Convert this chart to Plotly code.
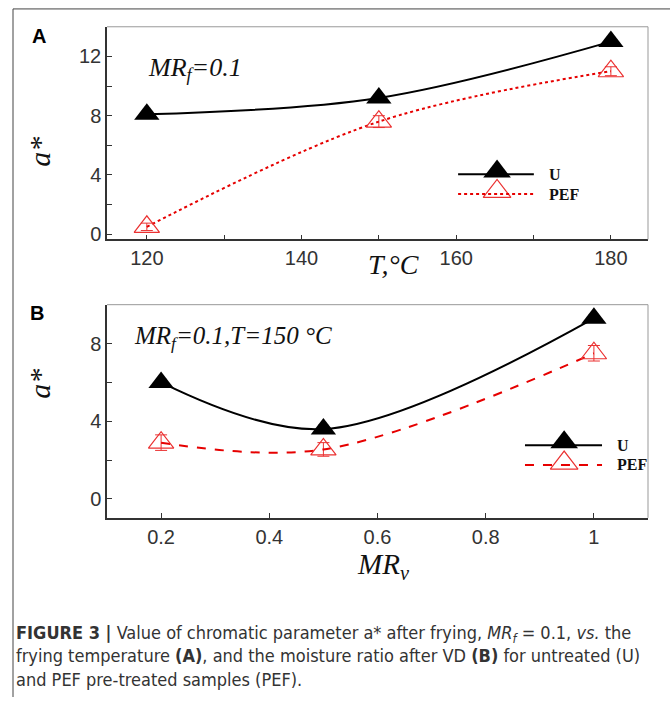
import plotly.graph_objects as go

W, H = 670, 703

def px(x):
    return x / W

def py(y):
    return 1 - y / H

# ---------------- data ----------------
temp = [120, 150, 180]
a_u_temp = [8.1, 9.2, 13.0]
a_u_temp_err = [0.2, 0.2, 0.2]
a_pef_temp = [0.5, 7.6, 11.0]
a_pef_temp_err = [0.25, 0.4, 0.3]

mrv = [0.2, 0.5, 1.0]
a_u_mrv = [6.0, 3.6, 9.3]
a_u_mrv_err = [0.2, 0.2, 0.2]
a_pef_mrv = [2.9, 2.55, 7.5]
a_pef_mrv_err = [0.4, 0.35, 0.4]

series_names = ["U", "PEF"]

BLACK = "#000000"
RED = "rgb(230,0,0)"
RED_M = "rgb(235,50,50)"
TICKC = "#333333"
SANS = "Liberation Sans, Arial, sans-serif"
SERIF = "Liberation Serif, Times New Roman, serif"

fig = go.Figure()

def add_pair(xs, yu, yue, yp, ype, xa, ya, pef_dash):
    fig.add_trace(go.Scatter(
        x=xs, y=yp, mode="lines+markers", xaxis=xa, yaxis=ya,
        line=dict(color=RED, width=2, dash=pef_dash, shape="spline", smoothing=1.0),
        marker=dict(symbol="triangle-up-open", size=22, color=RED_M, line=dict(color=RED_M, width=1.2)),
        error_y=dict(type="data", array=ype, color=RED_M, thickness=1, width=6),
        showlegend=False, name=series_names[1]))
    fig.add_trace(go.Scatter(
        x=xs, y=yu, mode="lines+markers", xaxis=xa, yaxis=ya,
        line=dict(color=BLACK, width=2, shape="spline", smoothing=1.0),
        marker=dict(symbol="triangle-up", size=22, color=BLACK),
        error_y=dict(type="data", array=yue, color=BLACK, thickness=1, width=5),
        showlegend=False, name=series_names[0]))

add_pair(temp, a_u_temp, a_u_temp_err, a_pef_temp, a_pef_temp_err, "x", "y", "dot")
add_pair(mrv, a_u_mrv, a_u_mrv_err, a_pef_mrv, a_pef_mrv_err, "x2", "y2", "dash")

# custom legends on overlay axes (0..1 in the plot area)
legend_specs = [
    ("x3", "y3", "x", "y", 0.649, 0.789, 0.721, 0.307, 0.2135, 0.319, 0.226, "dot"),
    ("x4", "y4", "x2", "y2", 0.7726, 0.915, 0.845, 0.341, 0.248, 0.355, 0.257, "dash"),
]
shapes = []
annotations = []
for (xa, ya, bx, by, lx0, lx1, mx, uy, pyy, umy, pmy, dash) in legend_specs:
    fig.add_trace(go.Scatter(x=[mx], y=[umy], mode="markers", xaxis=xa, yaxis=ya,
                             marker=dict(symbol="triangle-up", size=24, color=BLACK),
                             showlegend=False, hoverinfo="skip"))
    fig.add_trace(go.Scatter(x=[mx], y=[pmy], mode="markers", xaxis=xa, yaxis=ya,
                             marker=dict(symbol="triangle-up-open", size=24, color=RED_M,
                                         line=dict(color=RED_M, width=1.2)),
                             showlegend=False, hoverinfo="skip"))
    shapes.append(dict(type="line", xref=f"{bx} domain", yref=f"{by} domain",
                       x0=lx0, x1=lx1, y0=uy, y1=uy, line=dict(color=BLACK, width=2)))
    shapes.append(dict(type="line", xref=f"{bx} domain", yref=f"{by} domain",
                       x0=lx0, x1=lx1, y0=pyy, y1=pyy, line=dict(color=RED, width=2, dash=dash)))
    for name, yy in zip(series_names, [uy, pyy]):
        annotations.append(dict(text=f"<b>{name}</b>", xref=f"{bx} domain", yref=f"{by} domain",
                                x=lx1 + 0.024, y=yy, xanchor="left", yanchor="middle",
                                showarrow=False, font=dict(family=SERIF, size=16, color="#111")))
    # top/right frame lines
    shapes.append(dict(type="line", xref=f"{bx} domain", yref=f"{by} domain",
                       x0=0, x1=1, y0=1, y1=1, line=dict(color="#999999", width=1)))
    shapes.append(dict(type="line", xref=f"{bx} domain", yref=f"{by} domain",
                       x0=1, x1=1, y0=0, y1=1, line=dict(color="#999999", width=1)))

# page border lines
shapes.append(dict(type="line", xref="paper", yref="paper", x0=px(13), x1=1, y0=py(9), y1=py(9),
                   line=dict(color="#444444", width=1)))
shapes.append(dict(type="line", xref="paper", yref="paper", x0=px(13), x1=px(13), y0=0, y1=py(9),
                   line=dict(color="#444444", width=1)))

def ann(text, x, y, size, family=SERIF, xanchor="center", yanchor="middle", angle=0, color="#111"):
    annotations.append(dict(text=text, xref="paper", yref="paper", x=px(x), y=py(y),
                            xanchor=xanchor, yanchor=yanchor, textangle=angle, showarrow=False,
                            font=dict(family=family, size=size, color=color)))

ann("<b>A</b>", 39, 36, 20, family=SANS, color="#000")
ann("<b>B</b>", 37, 316, 20, family=SANS, color="#000")
ann("<i>MR<sub>f</sub>=0.1</i>", 146, 70, 26, xanchor="left")
ann("<i>MR<sub>f</sub>=0.1,T=150 °C</i>", 132, 340, 25, xanchor="left")
ann("<i>a*</i>", 40, 153, 30, angle=-90)
ann("<i>a*</i>", 40, 387, 30, angle=-90)
ann("<i>T,°C</i>", 393, 267, 28)
ann("<i>MR<sub>v</sub></i>", 383, 571, 29)

caption = ("<b>FIGURE 3 |</b> Value of chromatic parameter a* after frying, <i>MR<sub>f</sub></i> = 0.1, <i>vs.</i> the"
           "<br>frying temperature <b>(A)</b>, and the moisture ratio after VD <b>(B)</b> for untreated (U)"
           "<br>and PEF pre-treated samples (PEF).")
annotations.append(dict(text=caption, xref="paper", yref="paper", x=px(14), y=py(662),
                        xanchor="left", yanchor="middle", align="left", showarrow=False,
                        font=dict(family="DejaVu Sans Condensed, Liberation Sans, sans-serif",
                                  size=18, color="#333333")))

xdom = [px(107), px(648)]
axis_common = dict(showline=True, linecolor="#333333", linewidth=1.5, ticks="inside", ticklen=5,
                   tickcolor="#333333", showgrid=False, zeroline=False,
                   tickfont=dict(family=SANS, size=20, color=TICKC))

fig.update_layout(
    width=W, height=H, margin=dict(l=0, r=0, t=0, b=0),
    paper_bgcolor="white", plot_bgcolor="white",
    xaxis=dict(domain=xdom, range=[114.85, 184.8], anchor="y", tick0=120, dtick=20,
               minor=dict(dtick=10, ticks="inside", ticklen=5, tickcolor="#333333"), **axis_common),
    yaxis=dict(domain=[py(241.5), py(27)], range=[-0.35, 14], anchor="x", tick0=0, dtick=4,
               minor=dict(dtick=2, ticks="inside", ticklen=5, tickcolor="#333333"), **axis_common),
    xaxis2=dict(domain=xdom, range=[0.1, 1.1], anchor="y2", tick0=0.2, dtick=0.2, **axis_common),
    yaxis2=dict(domain=[py(522.3), py(307.3)], range=[-0.97, 10.0], anchor="x2", tick0=0, dtick=4,
                minor=dict(dtick=2, ticks="inside", ticklen=5, tickcolor="#333333"), **axis_common),
    xaxis3=dict(overlaying="x", range=[0, 1], visible=False),
    yaxis3=dict(overlaying="y", range=[0, 1], visible=False),
    xaxis4=dict(overlaying="x2", range=[0, 1], visible=False),
    yaxis4=dict(overlaying="y2", range=[0, 1], visible=False),
    shapes=shapes, annotations=annotations,
)

fig.write_html("out.html", config={"displayModeBar": False},
               post_script="document.body.style.margin='0px';")
